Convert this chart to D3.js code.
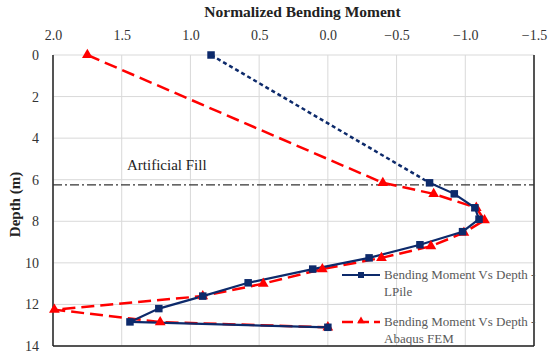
<!DOCTYPE html>
<html>
<head>
<meta charset="utf-8">
<script src="https://cdnjs.cloudflare.com/ajax/libs/d3/7.8.5/d3.min.js"></script>
<style>
  body { margin: 0; background: #fff; }
</style>
</head>
<body>
<svg id="chart"></svg>
<script>

// LPile results (normalized moment, depth in m)
var lpileMoment = [0.85, -0.74, -0.92, -1.07, -1.10, -0.98, -0.67, -0.30, 0.11, 0.58, 0.91, 1.23, 1.44, 0.0];
var lpileDepth  = [0, 6.15, 6.68, 7.35, 7.9, 8.5, 9.13, 9.76, 10.3, 10.96, 11.6, 12.2, 12.84, 13.1];

// Abaqus FEM results
var femMoment = [1.75, -0.40, -0.77, -1.08, -1.14, -0.99, -0.75, -0.39, 0.04, 0.47, 0.91, 1.99, 1.22, 0.0];
var femDepth  = [0, 6.15, 6.68, 7.35, 7.95, 8.55, 9.2, 9.76, 10.3, 11.0, 11.6, 12.25, 12.85, 13.1];

var xTicks = [2.0, 1.5, 1.0, 0.5, 0.0, -0.5, -1.0, -1.5];
var yTicks = [0, 2, 4, 6, 8, 10, 12, 14];
var fillDepth = 6.25;

var serif = "'Liberation Serif', 'Times New Roman', serif";

var margin = {top: 55, right: 16, bottom: 10, left: 53},
    width = 550 - margin.left - margin.right,
    height = 356 - margin.top - margin.bottom;

var blue = "#0d2a6b", red = "#ff0000";

var x = d3.scaleLinear().domain([2.0, -1.5]).range([0, width]);
var y = d3.scaleLinear().domain([0, 14]).range([0, height]);

var svg = d3.select("#chart")
    .attr("width", 550)
    .attr("height", 356)
  .append("g")
    .attr("transform", "translate(" + margin.left + "," + margin.top + ")");

// grid
svg.selectAll(".vgrid").data(xTicks).enter().append("line")
    .attr("x1", function(d) { return x(d); }).attr("x2", function(d) { return x(d); })
    .attr("y1", 0).attr("y2", height)
    .style("stroke", "#d9d9d9").style("stroke-width", 1);
svg.selectAll(".hgrid").data(yTicks).enter().append("line")
    .attr("y1", function(d) { return y(d); }).attr("y2", function(d) { return y(d); })
    .attr("x1", 0).attr("x2", width)
    .style("stroke", "#d9d9d9").style("stroke-width", 1);

// axes
var xAxis = d3.axisTop(x).tickValues(xTicks).tickSize(0).tickPadding(15).tickFormat(d3.format(".1f"));
var yAxis = d3.axisLeft(y).tickValues(yTicks).tickSize(0).tickPadding(14);

var gx = svg.append("g").call(xAxis);
gx.select(".domain").remove();
gx.selectAll("text").style("font-family", serif).style("font-size", "14px").style("fill", "#333")
    .attr("dy", 0)
    .text(function(d) { return d === 0 ? "0.0" : d3.format(".1f")(d); });

var gy = svg.append("g").call(yAxis);
gy.select(".domain").remove();
gy.selectAll("text").style("font-family", serif).style("font-size", "14px").style("fill", "#333");

// frame: left, bottom, right dark
svg.append("line").attr("x1", 0).attr("x2", 0).attr("y1", 0).attr("y2", height).style("stroke", "#222").style("stroke-width", 1.5);
svg.append("line").attr("x1", 0).attr("x2", width).attr("y1", height).attr("y2", height).style("stroke", "#222").style("stroke-width", 1.5);
svg.append("line").attr("x1", width).attr("x2", width).attr("y1", 0).attr("y2", height).style("stroke", "#222").style("stroke-width", 1.5);

// titles
svg.append("text").attr("x", width / 2 + 9).attr("y", -38).attr("text-anchor", "middle")
    .style("font-family", serif).style("font-size", "15.5px").style("font-weight", "bold").style("fill", "#222")
    .text("Normalized Bending Moment");
svg.append("text").attr("transform", "translate(-33," + (height / 2 + 4) + ") rotate(-90)")
    .attr("text-anchor", "middle")
    .style("font-family", serif).style("font-size", "15px").style("font-weight", "bold").style("fill", "#222")
    .text("Depth (m)");

// artificial fill marker
svg.append("line").attr("x1", 0).attr("x2", width)
    .attr("y1", y(fillDepth)).attr("y2", y(fillDepth))
    .style("stroke", "#333").style("stroke-width", 1.2).style("stroke-dasharray", "9,3,2,3");
svg.append("text").attr("x", 74).attr("y", y(fillDepth) - 15)
    .style("font-family", serif).style("font-size", "15px").style("fill", "#222").text("Artificial Fill");

var line = d3.line()
    .x(function(d) { return x(d[0]); })
    .y(function(d) { return y(d[1]); });

var lpile = d3.zip(lpileMoment, lpileDepth);
var fem = d3.zip(femMoment, femDepth);

// Abaqus FEM curve
svg.append("path").datum(fem).attr("d", line)
    .style("fill", "none").style("stroke", red).style("stroke-width", 2.5)
    .style("stroke-dasharray", "13,6");

// LPile: dotted above fill, solid below
svg.append("path").datum(lpile.slice(0, 2)).attr("d", line)
    .style("fill", "none").style("stroke", blue).style("stroke-width", 2.5)
    .style("stroke-dasharray", "4,3");
svg.append("path").datum(lpile.slice(1)).attr("d", line)
    .style("fill", "none").style("stroke", blue).style("stroke-width", 2.2);

var tri = d3.symbol().type(d3.symbolTriangle).size(50);

svg.selectAll(".tri").data(fem).enter().append("path")
    .attr("d", tri)
    .attr("transform", function(d) { return "translate(" + x(d[0]) + "," + y(d[1]) + ")"; })
    .style("fill", red);

svg.selectAll(".sq").data(lpile).enter().append("rect")
    .attr("x", function(d) { return x(d[0]) - 3.75; })
    .attr("y", function(d) { return y(d[1]) - 3.75; })
    .attr("width", 7.5).attr("height", 7.5)
    .style("fill", blue);

// legend
var legend = svg.append("g").attr("transform", "translate(" + (342 - margin.left) + "," + (275 - margin.top) + ")");
legend.append("line").attr("x1", 0).attr("x2", 38).attr("y1", 0).attr("y2", 0)
    .style("stroke", blue).style("stroke-width", 2.2);
legend.append("rect").attr("x", 16).attr("y", -3).attr("width", 6).attr("height", 6).style("fill", blue);
legend.append("line").attr("x1", 0).attr("x2", 38).attr("y1", 47).attr("y2", 47)
    .style("stroke", red).style("stroke-width", 2.5).style("stroke-dasharray", "11,5");
legend.append("path").attr("d", d3.symbol().type(d3.symbolTriangle).size(26))
    .attr("transform", "translate(19,46)").style("fill", red);

var legendText = [["Bending Moment Vs Depth -", "LPile"], ["Bending Moment Vs Depth -", "Abaqus FEM"]];
legendText.forEach(function(t, i) {
  var tx = legend.append("text").attr("x", 42).attr("y", 4 + i * 47)
      .style("font-family", serif).style("font-size", "13px").style("fill", "#595959");
  tx.append("tspan").attr("x", 42).text(t[0]);
  tx.append("tspan").attr("x", 42).attr("dy", 17).text(t[1]);
});

</script>
</body>
</html>
